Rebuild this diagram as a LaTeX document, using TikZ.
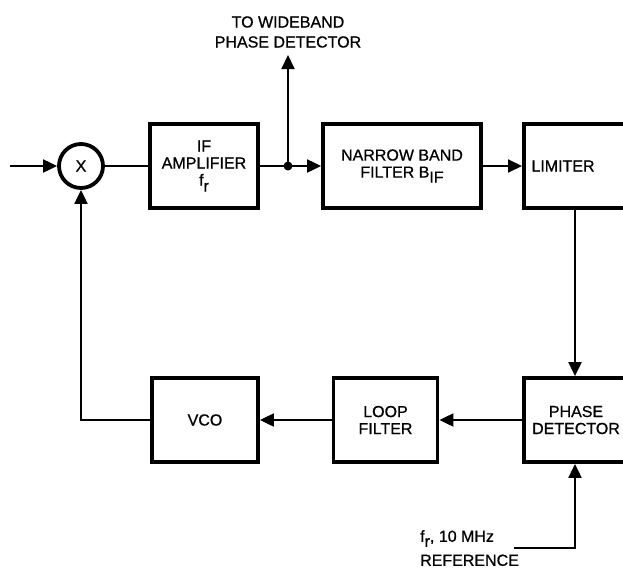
\documentclass[tikz,border=0pt]{standalone}
\usepackage{fontspec}
\setmainfont{Liberation Sans}
\newfontfamily\medfont[FakeBold=0.8]{Liberation Sans}
\usetikzlibrary{arrows.meta}
\begin{document}
\begin{tikzpicture}[x=1pt,y=-1pt]
\tikzset{
  lbl/.style={inner sep=0pt, align=center, font=\medfont\fontsize{16}{17}\selectfont},
  box/.style={lbl, draw, line width=3.8pt, minimum height=84pt},
  wire/.style={line width=2pt},
  arr/.style={wire, -{Triangle[length=14pt,width=13pt]}},
}
\useasboundingbox (0,0) rectangle (623,570);
\clip (0,0) rectangle (623,570);
% blocks
\node[lbl, circle, draw, line width=3.8pt, minimum size=44pt] (mix) at (81,166) {X};
\node[box, minimum width=108pt] (ifa) at (204,166) {IF\\AMPLIFIER\\f\raisebox{-6pt}{r}};
\node[box, minimum width=158pt] (nbf) at (402,166) {NARROW BAND\\FILTER B\raisebox{-5pt}{IF}};
\node[box, minimum width=200pt, anchor=west] (lim) at (522,166) {};
\node[lbl] (limtxt) at (563,166) {LIMITER};
\node[box, minimum width=200pt, anchor=west] (pd) at (522,420) {};
\node[lbl] (pdtxt) at (576,420) {PHASE\\DETECTOR};
\node[box, minimum width=104pt] (lf) at (385.5,420) {LOOP\\FILTER};
\node[box, minimum width=106pt] (vco) at (205,420) {VCO};
% labels
\node[lbl, font=\medfont\fontsize{16}{20}\selectfont] (wbtxt) at (288,32) {TO WIDEBAND\\PHASE DETECTOR};
\node[lbl, align=left, anchor=north west, font=\medfont\fontsize{16}{24}\selectfont] (reftxt) at (420,530) {f\raisebox{-5pt}{r}, 10 MHz\\REFERENCE};
% coordinates
\coordinate (in) at (10,166);
\coordinate (j) at (288,166);
\coordinate (wb) at (288,55);
\coordinate (px) at (575,0);
\coordinate (refin) at (514,548);
% connectors
\draw[arr] (in) -- (mix.west);
\draw[wire] (mix.east) -- (ifa.west);
\draw[arr] (ifa.east) -- (nbf.west);
\fill (j) circle (4.5pt);
\draw[arr] (j) -- (wb);
\draw[arr] (nbf.east) -- (lim.west);
\draw[arr] (lim.south -| px) -- (pd.north -| px);
\draw[arr] (pd.west) -- (lf.east);
\draw[arr] (lf.west) -- (vco.east);
\draw[arr] (vco.west) -| (mix.south);
\draw[arr] (refin) -| (pd.south -| px);
\end{tikzpicture}
\end{document}
